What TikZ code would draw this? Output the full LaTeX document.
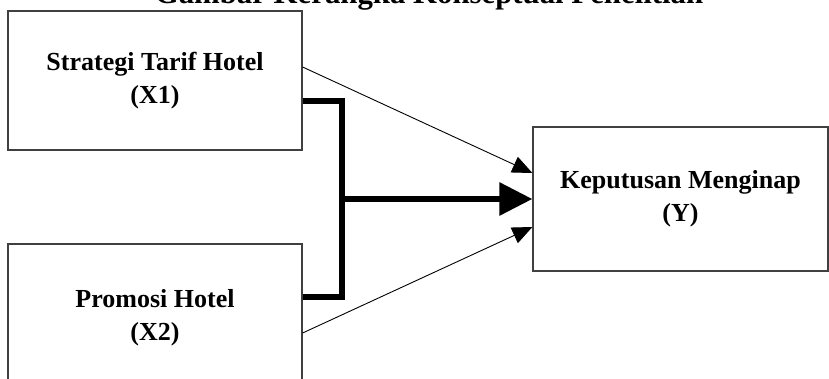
\documentclass[tikz,border=0pt]{standalone}
\usepackage{fontspec}
\setmainfont{Liberation Serif}
\usepackage{tikz}
\usetikzlibrary{arrows.meta}
\usetikzlibrary{positioning}

\begin{document}
\begin{tikzpicture}[x=1pt,y=-1pt,
	var/.style={draw=black!75, line width=1.2pt, align=center, font=\fontsize{26}{33}\selectfont\bfseries, inner sep=0pt},
	pengaruh/.style={line width=0.9pt, -{Triangle[length=20pt,width=17pt]}},
	gabung/.style={line width=6pt}
]
\useasboundingbox (0,0) rectangle (829,378);
\clip (0,0) rectangle (829,378);
\node (judul) at (429,-4) {\fontsize{30.8}{36}\selectfont\bfseries Gambar Kerangka Konseptual Penelitian};
\node[var, minimum width=294pt, minimum height=139pt] (tarif) at (155,80.5) {Strategi Tarif Hotel\\(X1)};
\node[var, minimum width=294pt, minimum height=147pt] (promosi) at (155,317.5) {Promosi Hotel\\(X2)};
\node[var, minimum width=295pt, minimum height=144pt] (keputusan) at (680.5,199) {Keputusan Menginap\\(Y)};
% garis gabungan X1 dan X2
\coordinate (jt) at (341.5,100.5);
\coordinate (jb) at (341.5,297);
\coordinate (jm) at (341.5,199);
\draw[gabung, line join=miter] ([yshift=-20pt]tarif.east) -- (jt) -- (jb) -- ([yshift=20.5pt]promosi.east);
\draw[gabung, -{Triangle[length=33pt,width=32pt]}] (jm) -- (keputusan.west);
\draw[pengaruh] ([yshift=13.5pt]tarif.east) -- ([yshift=26pt]keputusan.west);
\draw[pengaruh] ([yshift=-15.5pt]promosi.east) -- ([yshift=-28pt]keputusan.west);
\end{tikzpicture}
\end{document}
